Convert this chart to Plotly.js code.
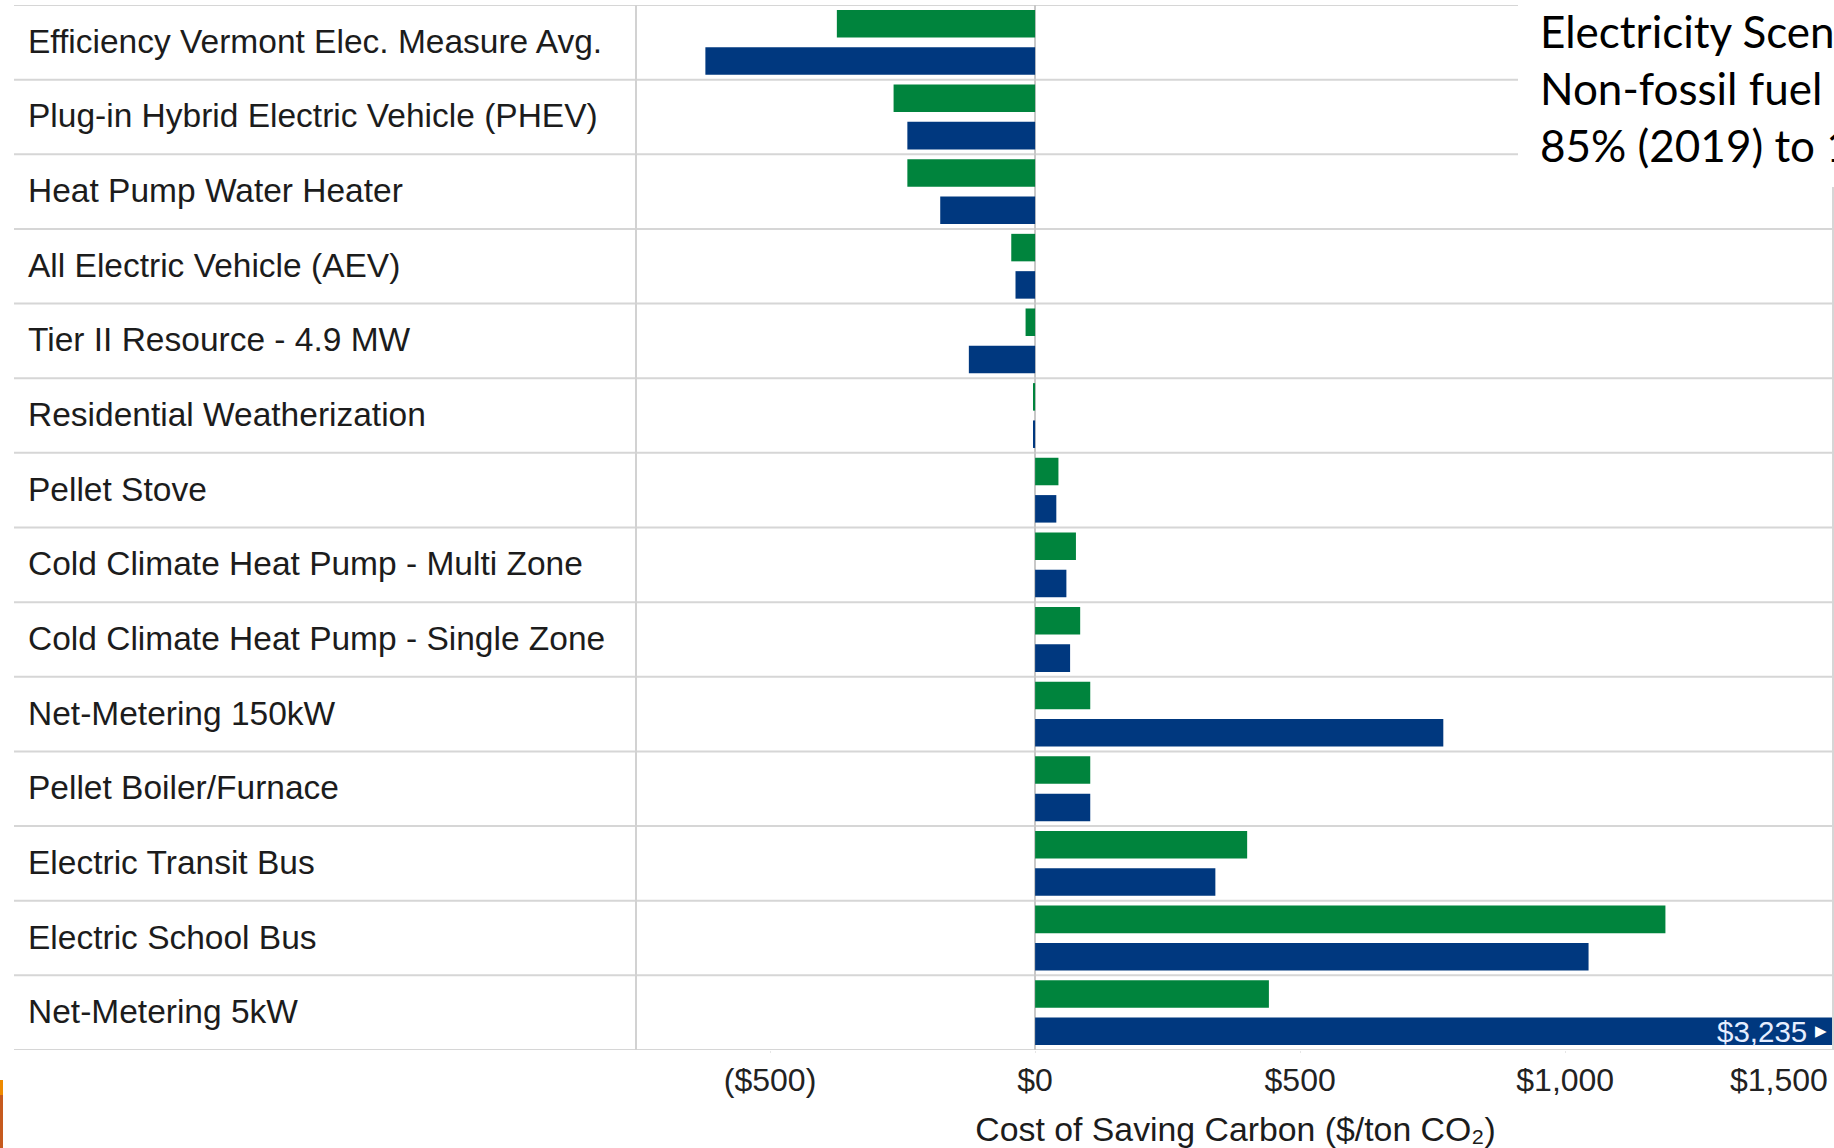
<!DOCTYPE html>
<html>
<head>
<meta charset="utf-8">
<script src="https://cdn.plot.ly/plotly-3.0.1.min.js"></script>
<style>
html,body{margin:0;padding:0;background:#ffffff;overflow:hidden;}
#chart{width:1834px;height:1148px;}
</style>
</head>
<body>
<div id="chart"></div>
<script>
// ---------------- data ----------------
const categories = [
  "Efficiency Vermont Elec. Measure Avg.",
  "Plug-in Hybrid Electric Vehicle (PHEV)",
  "Heat Pump Water Heater",
  "All Electric Vehicle (AEV)",
  "Tier II Resource - 4.9 MW",
  "Residential Weatherization",
  "Pellet Stove",
  "Cold Climate Heat Pump - Multi Zone",
  "Cold Climate Heat Pump - Single Zone",
  "Net-Metering 150kW",
  "Pellet Boiler/Furnace",
  "Electric Transit Bus",
  "Electric School Bus",
  "Net-Metering 5kW"
];
const greenValues = [-374, -267, -241, -45, -18, -4, 44, 77, 85, 104, 104, 400, 1189, 441];
const blueValues  = [-622, -241, -179, -37, -125, -4, 40, 59, 66, 770, 104, 340, 1044, 3235];
const tickValues = [-500, 0, 500, 1000, 1500];
const tickLabels = ["($500)", "$0", "$500", "$1,000", "$1,500"];
const noteLines = ["Electricity Scen", "Non-fossil fuel", "85% (2019) to 1"];
const axisTitle = "Cost of Saving Carbon ($/ton CO\u2082)";

// ---------------- layout helpers ----------------
const W = 1834, H = 1148;
const plotL = 637, plotR = 1834, plotT = 5, plotB = 1050;
const pw = plotR - plotL, ph = plotB - plotT;
const px = x => (x - plotL) / pw;          // pixel x -> paper x
const py = y => (plotB - y) / ph;          // pixel y -> paper y
const XMIN = -751, XMAX = 1507;
const FONT = "Liberation Sans, Arial, sans-serif";
const GREEN = "#00843d", BLUE = "#00387f";

const traces = [
  {type: "bar", orientation: "h", name: "Series A", y: categories, x: greenValues,
   marker: {color: GREEN, line: {width: 0}}, hoverinfo: "x+y"},
  {type: "bar", orientation: "h", name: "Series B", y: categories, x: blueValues,
   marker: {color: BLUE, line: {width: 0}}, hoverinfo: "x+y"}
];

const shapes = [];
// row dividers
for (let k = 0; k <= categories.length; k++) {
  shapes.push({type: "line", xref: "paper", yref: "y", x0: px(14), x1: 1,
    y0: k - 0.5, y1: k - 0.5, line: {color: "#d6d6d6", width: 2}, layer: "below"});
}
// white note box covering top-right
shapes.push({type: "rect", xref: "paper", yref: "paper", x0: px(1518), x1: px(1840),
  y0: py(187), y1: py(-5), fillcolor: "#ffffff", line: {width: 0}, layer: "above"});
// right pane border
shapes.push({type: "line", xref: "paper", yref: "paper", x0: px(1833), x1: px(1833),
  y0: py(1050), y1: py(187), line: {color: "#d6d6d6", width: 2}, layer: "above"});
// bottom-left slide marks
shapes.push({type: "rect", xref: "paper", yref: "paper", x0: px(0), x1: px(3),
  y0: py(1095), y1: py(1080), fillcolor: "#ee8a00", line: {width: 0}});
shapes.push({type: "rect", xref: "paper", yref: "paper", x0: px(0), x1: px(3),
  y0: py(1150), y1: py(1095), fillcolor: "#c65a1e", line: {width: 0}});

const annotations = [];
categories.forEach((c, i) => {
  annotations.push({xref: "paper", yref: "y", x: px(26), y: c, yshift: 1, xanchor: "left", yanchor: "middle",
    text: c, showarrow: false, font: {family: FONT, size: 33.5, color: "#1c1c1c"}});
});
// last tick label, kept inside the page
annotations.push({xref: "paper", yref: "paper", x: px(1830), y: py(1080), xanchor: "right", yanchor: "middle",
  text: tickLabels[4], showarrow: false, font: {family: FONT, size: 32, color: "#222"}});
// clipped bar value label
const last = categories.length - 1;
annotations.push({xref: "paper", yref: "y", x: px(1809), y: last, yshift: -18.7, xanchor: "right", yanchor: "middle",
  text: "$" + blueValues[last].toLocaleString("en-US"), showarrow: false,
  font: {family: FONT, size: 29.5, color: "#e6eeff"}});
annotations.push({xref: "paper", yref: "y", x: px(1821), y: last, yshift: -18.7, xanchor: "center", yanchor: "middle",
  text: "\u25B6", showarrow: false, font: {family: "DejaVu Sans", size: 15, color: "#ffffff"}});
// note text
const noteY = [31, 88, 145];
noteLines.forEach((t, i) => {
  annotations.push({xref: "paper", yref: "paper", x: px(1538), y: py(noteY[i]), xanchor: "left", yanchor: "middle",
    text: t, showarrow: false, font: {family: "Lato, Open Sans, sans-serif", size: 44, color: "#000"}});
});

const layout = {
  width: W, height: H,
  margin: {l: plotL, r: W - plotR, t: plotT, b: H - plotB, pad: 0},
  paper_bgcolor: "#ffffff", plot_bgcolor: "#ffffff",
  showlegend: false,
  barmode: "group", bargap: 0, bargroupgap: 0.263,
  xaxis: {
    range: [XMIN, XMAX], fixedrange: true,
    tickvals: tickValues.slice(0, 4), ticktext: tickLabels.slice(0, 4),
    showgrid: false, zeroline: true, zerolinecolor: "#c8c8c8", zerolinewidth: 2,
    ticks: "outside", ticklen: 2, tickwidth: 1, tickcolor: "#e6e6e6",
    tickfont: {family: FONT, size: 32, color: "#222"},
    showline: false,
    title: {text: axisTitle, font: {family: FONT, size: 33.8, color: "#1c1c1c"}, standoff: 22}
  },
  yaxis: {
    type: "category", categoryarray: categories, range: [categories.length - 0.5, -0.5],
    showticklabels: false, ticks: "", showgrid: false, zeroline: false,
    showline: true, linecolor: "#d2d2d2", linewidth: 2, fixedrange: true
  },
  shapes: shapes,
  annotations: annotations
};

Plotly.newPlot("chart", traces, layout, {displayModeBar: false, staticPlot: true});
</script>
</body>
</html>
